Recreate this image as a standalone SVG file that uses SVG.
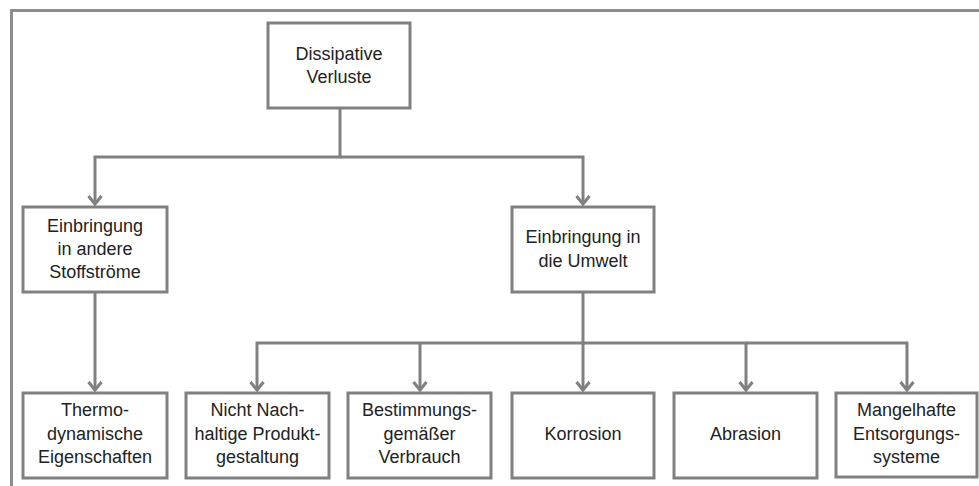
<svg xmlns="http://www.w3.org/2000/svg" width="979" height="486" viewBox="0 0 979 486">
<style>
.box{fill:#ffffff;stroke:#808080;stroke-width:3}
.frame{fill:none;stroke:#8c8c8c;stroke-width:3}
.con{fill:none;stroke:#808080;stroke-width:3}
text{font-family:"Liberation Sans",Arial,sans-serif;font-size:18px;fill:#222222;text-anchor:middle}
</style>
<defs>
<marker id="arr" markerUnits="userSpaceOnUse" markerWidth="20" markerHeight="20" viewBox="-10 -10 20 20" refX="0" refY="0" orient="auto">
<path d="M-8,-6.5 L0,0 L-8,6.5" fill="none" stroke="#808080" stroke-width="3"/>
</marker>
</defs>
<path class="frame" d="M11.5,486 V10.5 H979"/>
<g id="connectors">
<path class="con" d="M340,108 V157 H95 V204" marker-end="url(#arr)"/>
<path class="con" d="M340,157 H583 V204" marker-end="url(#arr)"/>
<path class="con" d="M95,292 V390" marker-end="url(#arr)"/>
<path class="con" d="M583,292 V343 H257 V390" marker-end="url(#arr)"/>
<path class="con" d="M420,343 V390" marker-end="url(#arr)"/>
<path class="con" d="M583,343 V390" marker-end="url(#arr)"/>
<path class="con" d="M583,343 H746 V390" marker-end="url(#arr)"/>
<path class="con" d="M746,343 H907 V390" marker-end="url(#arr)"/>
</g>
<g id="n-dissipative">
<rect class="box" x="268" y="23" width="142" height="85"/>
<text x="339" y="60">Dissipative</text>
<text x="339" y="83">Verluste</text>
</g>
<g id="n-andere">
<rect class="box" x="23" y="207" width="144" height="85"/>
<text x="95" y="232">Einbringung</text>
<text x="95" y="255">in andere</text>
<text x="95" y="278">Stoffströme</text>
</g>
<g id="n-umwelt">
<rect class="box" x="512" y="207" width="142" height="85"/>
<text x="583" y="243">Einbringung in</text>
<text x="583" y="267">die Umwelt</text>
</g>
<g id="n-thermo">
<rect class="box" x="23" y="393" width="144" height="85"/>
<text x="95" y="416">Thermo-</text>
<text x="95" y="440">dynamische</text>
<text x="95" y="463">Eigenschaften</text>
</g>
<g id="n-nachhaltig">
<rect class="box" x="186" y="393" width="143" height="85"/>
<text x="257.5" y="416">Nicht Nach-</text>
<text x="257.5" y="440">haltige Produkt-</text>
<text x="257.5" y="463">gestaltung</text>
</g>
<g id="n-bestimmung">
<rect class="box" x="348" y="393" width="143" height="85"/>
<text x="419.5" y="416">Bestimmungs-</text>
<text x="419.5" y="440">gemäßer</text>
<text x="419.5" y="463">Verbrauch</text>
</g>
<g id="n-korrosion">
<rect class="box" x="512" y="393" width="142" height="85"/>
<text x="583" y="440">Korrosion</text>
</g>
<g id="n-abrasion">
<rect class="box" x="674" y="393" width="143" height="85"/>
<text x="745.5" y="440">Abrasion</text>
</g>
<g id="n-mangel">
<rect class="box" x="836" y="393" width="141" height="84"/>
<text x="906.5" y="416">Mangelhafte</text>
<text x="906.5" y="440">Entsorgungs-</text>
<text x="906.5" y="463">systeme</text>
</g>
</svg>
